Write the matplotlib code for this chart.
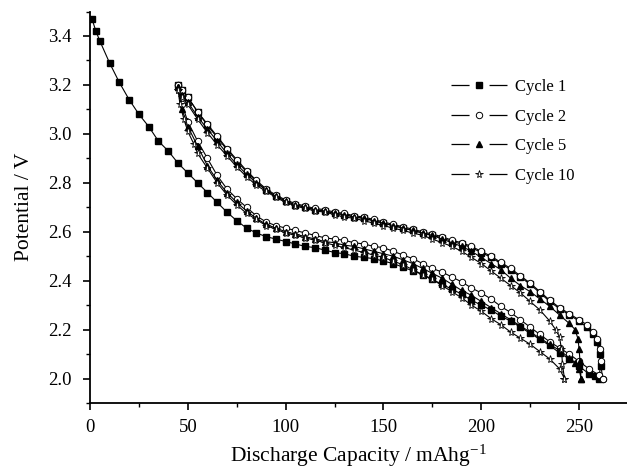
import numpy as np
import matplotlib
matplotlib.use("Agg")
import matplotlib.pyplot as plt
from matplotlib.lines import Line2D
from matplotlib.legend_handler import HandlerTuple
from matplotlib.ticker import MultipleLocator

plt.rcParams['font.family'] = ['Liberation Serif', 'DejaVu Serif']
plt.rcParams['mathtext.default'] = 'regular'
plt.rcParams['lines.scale_dashes'] = False

# ---------------- data ----------------
labels = ["Cycle 1", "Cycle 2", "Cycle 5", "Cycle 10"]

# Cycle 1 discharge (0 -> 260)
c1_dis_x = [1, 3, 5, 10, 15, 20, 25, 30, 35, 40, 45, 50, 55, 60, 65, 70, 75, 80, 85, 90, 95,
            100, 105, 110, 115, 120, 125, 130, 135, 140, 145, 150, 155, 160, 165, 170, 175,
            180, 185, 190, 195, 200, 205, 210, 215, 220, 225, 230, 235, 240, 245, 250, 255,
            258, 260]
c1_dis_y = [3.47, 3.42, 3.38, 3.29, 3.21, 3.14, 3.08, 3.03, 2.97, 2.93, 2.88, 2.84, 2.80, 2.76,
            2.72, 2.68, 2.645, 2.615, 2.595, 2.58, 2.57, 2.56, 2.55, 2.54, 2.535, 2.525, 2.515,
            2.51, 2.50, 2.495, 2.49, 2.48, 2.47, 2.455, 2.44, 2.425, 2.405, 2.385, 2.365, 2.345,
            2.32, 2.30, 2.28, 2.255, 2.235, 2.21, 2.185, 2.16, 2.135, 2.105, 2.08, 2.05, 2.02,
            2.01, 2.00]
# Cycle 1 charge (listed from low to high capacity; travelled 260 -> 45)
c1_chg_x = [45, 47, 50, 55, 60, 65, 70, 75, 80, 85, 90, 95, 100, 105, 110, 115, 120, 125, 130,
            135, 140, 145, 150, 155, 160, 165, 170, 175, 180, 185, 190, 195, 200, 205, 210, 215,
            220, 225, 230, 235, 240, 245, 250, 254, 257, 259, 260.5, 261]
c1_chg_y = [3.20, 3.18, 3.15, 3.09, 3.035, 2.985, 2.935, 2.89, 2.845, 2.805, 2.77, 2.745, 2.725,
            2.71, 2.70, 2.69, 2.685, 2.675, 2.67, 2.66, 2.655, 2.645, 2.635, 2.625, 2.615, 2.605,
            2.595, 2.585, 2.575, 2.56, 2.55, 2.535, 2.515, 2.495, 2.47, 2.445, 2.415, 2.385,
            2.35, 2.315, 2.285, 2.26, 2.235, 2.21, 2.18, 2.15, 2.10, 2.05]

# Cycle 2
c2_dis_x = [45, 47, 50, 55, 60, 65, 70, 75, 80, 85, 90, 95, 100, 105, 110, 115, 120, 125, 130,
            135, 140, 145, 150, 155, 160, 165, 170, 175, 180, 185, 190, 195, 200, 205, 210, 215,
            220, 225, 230, 235, 240, 245, 250, 255, 260, 262]
c2_dis_y = [3.20, 3.12, 3.05, 2.97, 2.90, 2.83, 2.775, 2.735, 2.70, 2.665, 2.64, 2.625, 2.615,
            2.605, 2.595, 2.585, 2.575, 2.57, 2.565, 2.555, 2.55, 2.54, 2.535, 2.52, 2.505, 2.49,
            2.47, 2.45, 2.435, 2.415, 2.395, 2.37, 2.35, 2.325, 2.295, 2.27, 2.24, 2.21, 2.18,
            2.15, 2.125, 2.10, 2.07, 2.04, 2.015, 2.00]
c2_chg_x = [45, 47, 50, 55, 60, 65, 70, 75, 80, 85, 90, 95, 100, 105, 110, 115, 120, 125, 130,
            135, 140, 145, 150, 155, 160, 165, 170, 175, 180, 185, 190, 195, 200, 205, 210, 215,
            220, 225, 230, 235, 240, 245, 250, 254, 257, 259, 260.5, 261, 262]
c2_chg_y = [3.20, 3.18, 3.15, 3.09, 3.04, 2.99, 2.94, 2.895, 2.85, 2.81, 2.775, 2.75, 2.73,
            2.715, 2.705, 2.695, 2.69, 2.68, 2.675, 2.665, 2.66, 2.65, 2.64, 2.63, 2.62, 2.61,
            2.60, 2.59, 2.58, 2.565, 2.555, 2.54, 2.52, 2.50, 2.475, 2.45, 2.42, 2.39, 2.355,
            2.32, 2.29, 2.265, 2.24, 2.22, 2.19, 2.16, 2.12, 2.07, 2.00]

# Cycle 5
c5_dis_x = [45, 47, 50, 55, 60, 65, 70, 75, 80, 85, 90, 95, 100, 105, 110, 115, 120, 125, 130,
            135, 140, 145, 150, 155, 160, 165, 170, 175, 180, 185, 190, 195, 200, 205, 210, 215,
            220, 225, 230, 235, 240, 245, 248, 250, 251]
c5_dis_y = [3.19, 3.10, 3.03, 2.95, 2.87, 2.81, 2.76, 2.72, 2.685, 2.655, 2.63, 2.615, 2.60,
            2.59, 2.58, 2.57, 2.56, 2.555, 2.545, 2.54, 2.53, 2.52, 2.51, 2.50, 2.485, 2.47,
            2.45, 2.43, 2.41, 2.385, 2.36, 2.34, 2.315, 2.29, 2.265, 2.24, 2.215, 2.19, 2.165,
            2.14, 2.115, 2.085, 2.065, 2.04, 2.00]
c5_chg_x = [45, 47, 50, 55, 60, 65, 70, 75, 80, 85, 90, 95, 100, 105, 110, 115, 120, 125, 130,
            135, 140, 145, 150, 155, 160, 165, 170, 175, 180, 185, 190, 195, 200, 205, 210, 215,
            220, 225, 230, 235, 240, 245, 248, 249.5, 250, 250.5, 251]
c5_chg_y = [3.19, 3.16, 3.13, 3.07, 3.02, 2.97, 2.92, 2.875, 2.835, 2.80, 2.77, 2.745, 2.725,
            2.71, 2.70, 2.69, 2.685, 2.675, 2.67, 2.66, 2.655, 2.645, 2.635, 2.625, 2.615, 2.605,
            2.595, 2.585, 2.57, 2.555, 2.54, 2.52, 2.495, 2.47, 2.445, 2.41, 2.38, 2.355, 2.325,
            2.295, 2.26, 2.225, 2.20, 2.16, 2.12, 2.07, 2.00]

# Cycle 10
c10_dis_x = [45, 46, 48, 50, 53, 55, 60, 65, 70, 75, 80, 85, 90, 95, 100, 105, 110, 115, 120,
             125, 130, 135, 140, 145, 150, 155, 160, 165, 170, 175, 180, 185, 190, 195, 200,
             205, 210, 215, 220, 225, 230, 235, 240, 242.5]
c10_dis_y = [3.18, 3.12, 3.06, 3.01, 2.96, 2.92, 2.86, 2.80, 2.75, 2.71, 2.675, 2.65, 2.625,
             2.61, 2.595, 2.585, 2.575, 2.565, 2.555, 2.545, 2.535, 2.525, 2.515, 2.505, 2.495,
             2.48, 2.465, 2.445, 2.425, 2.405, 2.38, 2.355, 2.33, 2.30, 2.275, 2.245, 2.22,
             2.19, 2.165, 2.14, 2.11, 2.08, 2.04, 2.00]
c10_chg_x = [45, 47, 50, 55, 60, 65, 70, 75, 80, 85, 90, 95, 100, 105, 110, 115, 120, 125, 130,
             135, 140, 145, 150, 155, 160, 165, 170, 175, 180, 185, 190, 195, 200, 205, 210,
             215, 220, 225, 230, 235, 238, 240, 241, 241.5, 242.5]
c10_chg_y = [3.18, 3.15, 3.12, 3.06, 3.005, 2.955, 2.91, 2.865, 2.825, 2.79, 2.765, 2.74, 2.72,
             2.705, 2.695, 2.685, 2.68, 2.67, 2.66, 2.655, 2.645, 2.635, 2.625, 2.615, 2.605,
             2.595, 2.585, 2.57, 2.555, 2.54, 2.52, 2.495, 2.47, 2.44, 2.41, 2.38, 2.35, 2.315,
             2.28, 2.235, 2.20, 2.17, 2.12, 2.06, 2.00]

x_ticks = [0, 50, 100, 150, 200, 250]
y_ticks = [2.0, 2.2, 2.4, 2.6, 2.8, 3.0, 3.2, 3.4]

# ---------------- figure ----------------
W, H = 627, 470
fig = plt.figure(figsize=(W / 100, H / 100), dpi=100)
ax = fig.add_axes([90 / W, (H - 403) / H, (W - 90) / W, (403 - 11.5) / H])

styles = [
    dict(marker='s', mfc='black', mec='black', ms=3.8),
    dict(marker='o', mfc='white', mec='black', ms=4.6, mew=0.7),
    dict(marker='^', mfc='black', mec='black', ms=4.8),
    dict(marker='*', mfc='white', mec='black', ms=5.8, mew=0.6),
]
cycles = [
    (c1_dis_x, c1_dis_y, c1_chg_x, c1_chg_y),
    (c2_dis_x, c2_dis_y, c2_chg_x, c2_chg_y),
    (c5_dis_x, c5_dis_y, c5_chg_x, c5_chg_y),
    (c10_dis_x, c10_dis_y, c10_chg_x, c10_chg_y),
]
for (dx, dy, cx, cy), st in zip(cycles, styles):
    xs = list(dx) + list(cx)[::-1]
    ys = list(dy) + list(cy)[::-1]
    ax.plot(xs, ys, color='black', lw=0.8, **st)

ax.set_xlim(0, 274.5)
ax.set_ylim(1.9, 3.5)
ax.set_xticks(x_ticks)
ax.set_yticks(y_ticks)
ax.xaxis.set_minor_locator(MultipleLocator(25))
ax.yaxis.set_minor_locator(MultipleLocator(0.1))
ax.set_yticklabels([f"{v:.1f}" for v in y_ticks])
for s in ['top', 'right']:
    ax.spines[s].set_visible(False)
for s in ['left', 'bottom']:
    ax.spines[s].set_linewidth(1.3)
ax.tick_params(which='major', direction='out', length=5, width=1.2, labelsize=13.5)
ax.tick_params(axis='y', which='major', pad=8)
ax.tick_params(axis='x', which='major', pad=6.5)
ax.tick_params(which='minor', direction='out', length=3, width=1.0)

ax.set_xlabel("Discharge Capacity / mAhg$^{-1}$", fontsize=15.5)
ax.xaxis.set_label_coords(0.5, -(469 - 403) / (403 - 11.5), transform=ax.transAxes)
ax.xaxis.label.set_va('bottom')
ax.set_ylabel("Potential / V", fontsize=15.5)
ax.yaxis.set_label_coords((25 - 90) / (W - 90), 0.5 + (403 - 207 - (403 - 11.5) / 2) / (403 - 11.5))
ax.yaxis.label.set_va('center')

# legend: line - marker - line
handles = []
for st in styles:
    ln = Line2D([], [], color='black', lw=0.9, dashes=(13, 14.4))
    mk = Line2D([], [], color='black', lw=0, **st)
    handles.append((ln, mk))
leg = ax.legend(handles, labels, handler_map={tuple: HandlerTuple(ndivide=1)},
                loc='upper left', bbox_to_anchor=(451 / W, 1 - 79 / H),
                bbox_transform=fig.transFigure, frameon=False, fontsize=12,
                handlelength=40.4 / 12, handletextpad=0.5, labelspacing=0.82,
                borderpad=0, borderaxespad=0)

fig.savefig("out.png", dpi=100)
